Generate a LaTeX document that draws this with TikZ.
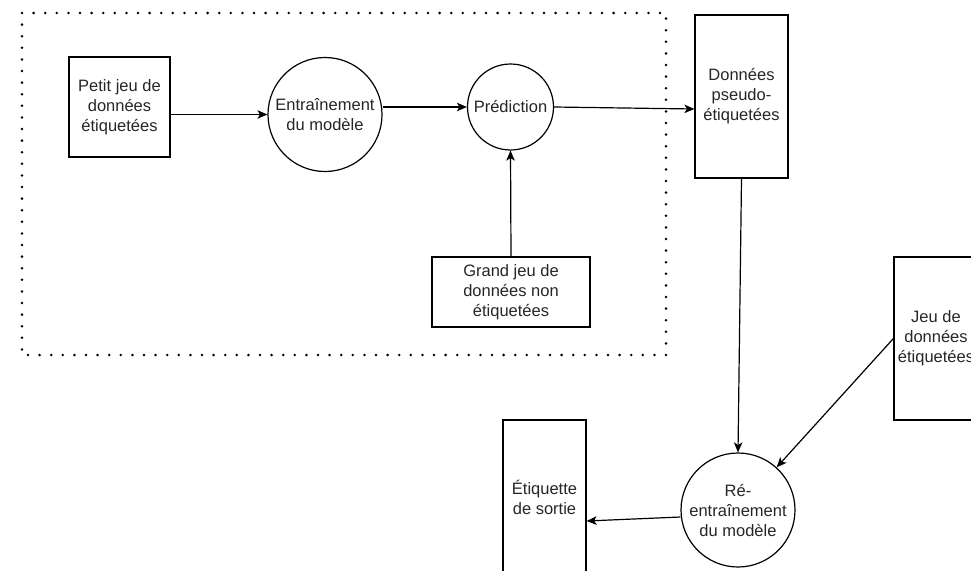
\documentclass[tikz,border=0pt]{standalone}
\usepackage{fontspec}
\setmainfont{Liberation Sans}
\usetikzlibrary{arrows.meta}
\begin{document}
\begin{tikzpicture}[x=1pt,y=-1pt,
  every node/.style={font=\fontsize{16.5}{20}\selectfont, align=center, inner sep=0pt, line width=1.2pt, text=black!85},
  databox/.style={draw, rectangle},
  procnode/.style={draw, circle, inner sep=0pt},
  flowarrow/.style={draw, line width=1.2pt, -{Stealth[length=10pt,width=8.5pt,inset=2.5pt]}},
  groupframe/.style={line width=2.8pt, line cap=round, dash pattern=on 0pt off 11.6pt}]
\useasboundingbox (0,0) rectangle (971,570);
\clip (0,0) rectangle (971,570);

% frame around the initial training stage
\draw[groupframe] (22,13) rectangle (666,355);

% data sets and processing steps
\node[databox, minimum width=101pt, minimum height=100pt] (petit) at (119.5,107) {Petit jeu de\\données\\étiquetées};
\node[procnode, minimum size=114pt] (entrain) at (325,114.5) {Entraînement\\du modèle};
\node[procnode, minimum size=86pt] (pred) at (510.5,107) {Prédiction};
\node[databox, minimum width=93pt, minimum height=163pt] (pseudo) at (741.5,96.5) {Données\\pseudo-\\étiquetées};
\node[databox, minimum width=158pt, minimum height=70pt] (grand) at (511,292) {Grand jeu de\\données non\\étiquetées};
\node[databox, minimum width=84pt, minimum height=163pt] (jeu) at (936,338.5) {Jeu de\\données\\étiquetées};
\node[procnode, minimum size=114pt] (re) at (738,510) {Ré-\\entraînement\\du modèle};
\node[databox, minimum width=83pt, minimum height=154pt] (sortie) at (544.5,497) {Étiquette\\de sortie};

% connectors
\draw[flowarrow] (petit.east |- entrain.west) -- (entrain.west);
\draw[flowarrow] (entrain.east |- pred.west) -- (pred.west);
\draw[flowarrow] (pred.east) -- ([yshift=-12.5pt]pseudo.west);
\draw[flowarrow] (grand.north) -- (pred.south);
\draw[flowarrow] (pseudo.south) -- (re.north);
\draw[flowarrow] (jeu.west) -- (re);
\draw[flowarrow] ([yshift=-7pt]re.west) -- ([yshift=-24pt]sortie.east);
\end{tikzpicture}
\end{document}
